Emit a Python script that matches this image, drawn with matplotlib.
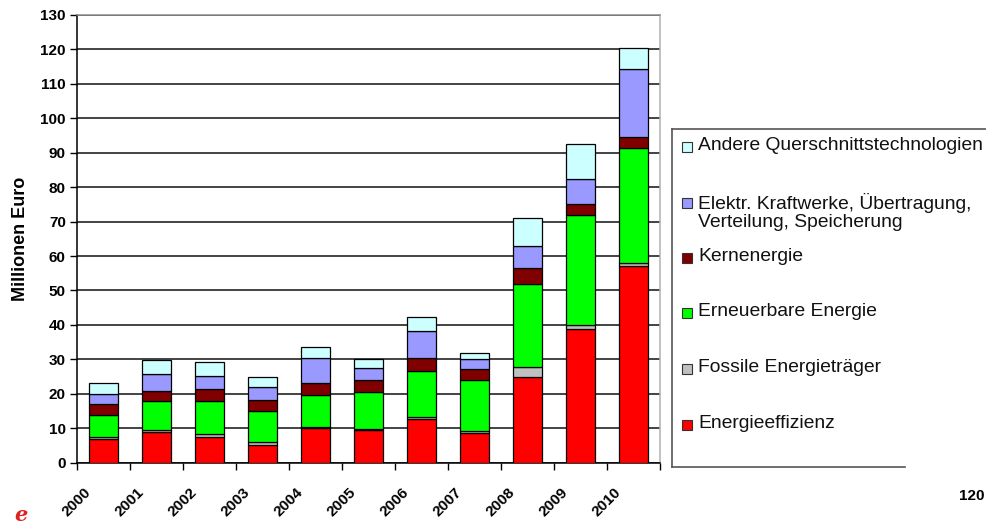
import numpy as np
import matplotlib
matplotlib.use("Agg")
from matplotlib import pyplot as plt
from matplotlib.patches import Rectangle
from matplotlib.lines import Line2D
from matplotlib.transforms import ScaledTranslation

plt.rcParams['font.family'] = ['Liberation Sans', 'DejaVu Sans']

# Fördermittel je Jahr (Millionen Euro)
jahre = ['2000', '2001', '2002', '2003', '2004', '2005', '2006', '2007', '2008', '2009', '2010']
effizienz = [6.9, 9.0, 7.6, 5.1, 10.0, 9.5, 12.7, 8.5, 24.9, 38.8, 57.2]
fossil = [0.7, 0.6, 0.8, 0.8, 0.5, 0.3, 0.5, 0.6, 3.0, 1.1, 0.9]
erneuerbar = [6.2, 8.2, 9.4, 9.1, 9.1, 10.6, 13.5, 14.9, 24.1, 32.0, 33.3]
kern = [3.2, 3.1, 3.6, 3.3, 3.4, 3.6, 3.6, 3.1, 4.5, 3.2, 3.2]
kraftwerke = [2.9, 4.9, 3.7, 3.8, 7.5, 3.6, 7.9, 2.9, 6.4, 7.2, 19.6]
andere = [3.1, 4.0, 4.0, 2.8, 3.2, 2.5, 4.0, 1.9, 8.2, 10.1, 6.3]

serien = [
    ('Energieeffizienz', effizienz, '#FF0000'),
    ('Fossile Energieträger', fossil, '#C0C0C0'),
    ('Erneuerbare Energie', erneuerbar, '#00FF00'),
    ('Kernenergie', kern, '#800000'),
    ('Elektr. Kraftwerke, Übertragung,\nVerteilung, Speicherung', kraftwerke, '#9999FF'),
    ('Andere Querschnittstechnologien', andere, '#CCFFFF'),
]

fig = plt.figure(figsize=(9.87, 5.28), dpi=100)
ax = fig.add_axes([0.078, 0.1237, 0.5907, 0.8479])

x = np.arange(len(jahre))
unten = np.zeros(len(jahre))
for name, werte, farbe in serien:
    ax.bar(x, werte, 0.55, bottom=unten, color=farbe, edgecolor='black',
           linewidth=0.9, zorder=3)
    unten += np.array(werte)

ax.set_xlim(-0.5, 10.5)
ax.set_ylim(0, 130)
ax.set_yticks(np.arange(0, 131, 10))
ax.yaxis.grid(True, color='#111111', linewidth=1.1, zorder=0)
ax.tick_params(axis='y', direction='out', length=5, width=1, labelsize=11, pad=3)
for lbl in ax.get_yticklabels():
    lbl.set_fontweight('bold')

# Jahreszahlen mittig, Striche zwischen den Kategorien
ax.set_xticks(x)
ax.set_xticks(np.arange(-0.5, 11, 1), minor=True)
ax.tick_params(axis='x', which='major', length=0, pad=16)
ax.tick_params(axis='x', which='minor', direction='out', length=5, width=1)
ax.set_xticklabels(jahre, rotation=45, ha='right', va='top', fontsize=11, fontweight='bold')
verschiebung = ScaledTranslation(-10 / 100, 0, fig.dpi_scale_trans)
for lbl in ax.get_xticklabels():
    lbl.set_transform(lbl.get_transform() + verschiebung)

ax.spines['left'].set_color('black')
ax.spines['bottom'].set_color('black')
ax.spines['top'].set_color('#8c8c8c')
ax.spines['right'].set_color('#b0b0b0')
for s in ax.spines.values():
    s.set_linewidth(1.1)

ax.set_ylabel('Millionen Euro', fontsize=13, fontweight='bold', labelpad=8)

# Legende von Hand
W, H = 987.0, 528.0
fig.add_artist(Line2D([672 / W, 672 / W], [1 - 129 / H, 1 - 467 / H], color='#555555', lw=1.2))
fig.add_artist(Line2D([672 / W, 1.0], [1 - 129 / H, 1 - 129 / H], color='#555555', lw=1.2))
fig.add_artist(Line2D([672 / W, 905 / W], [1 - 467 / H, 1 - 467 / H], color='#555555', lw=1.2))
zeilen = [147, 203, 258, 313, 369, 425]
for (name, werte, farbe), yy in zip(serien[::-1], zeilen):
    fig.add_artist(Rectangle((682 / W, 1 - (yy + 5) / H), 10 / W, 10 / H,
                             facecolor=farbe, edgecolor='#333333', lw=0.8))
    fig.text(698 / W, 1 - (yy - 10) / H, name, fontsize=13.9, va='top', ha='left',
             linespacing=1.1, color='#111111')

fig.text(985 / W, 1 - 496 / H, '120', fontsize=11, fontweight='bold', ha='right', va='center')
fig.text(14 / W, 1 - 515 / H, 'e', fontsize=15, fontweight='bold', style='italic',
         color='#dd2222', family='DejaVu Serif', va='center', ha='left')

fig.savefig('out.png', dpi=100)
